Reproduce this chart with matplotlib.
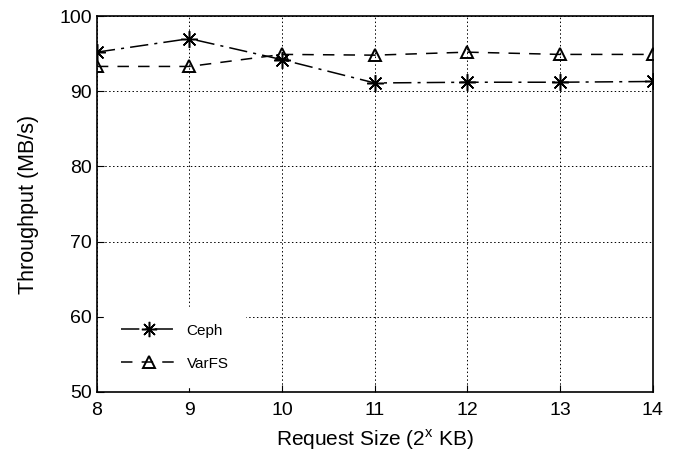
import numpy as np
import matplotlib
matplotlib.use('Agg')
import matplotlib.pyplot as plt
from matplotlib.lines import Line2D

plt.rcParams['font.family'] = ['Liberation Sans', 'DejaVu Sans']

# request size exponent (2^x KB)
sizes = [8, 9, 10, 11, 12, 13, 14]
ceph = [95.2, 97.0, 94.2, 91.1, 91.2, 91.2, 91.3]
varfs = [93.3, 93.3, 94.9, 94.8, 95.2, 94.9, 94.9]

star = (8, 2, 0)
ceph_dash = (12, 4, 2, 4)
varfs_dash = (7.5, 6)

fig, ax = plt.subplots(figsize=(6.82, 4.59), dpi=100)
fig.subplots_adjust(left=0.142, right=0.957, top=0.965, bottom=0.146)

ax.plot(sizes, ceph, color='black', lw=1.1, dashes=ceph_dash,
        marker=star, markersize=12, mew=1.1)
ax.plot(sizes, varfs, color='black', lw=1.1, dashes=varfs_dash,
        marker='^', markersize=9, mfc='none', mew=1.4)

ax.set_xlim(8, 14)
ax.set_ylim(50, 100)
ax.set_xticks(sizes)
ax.set_yticks(np.arange(50, 101, 10))
ax.grid(True, ls=(0, (1.5, 2.5)), color='black', lw=0.7)
ax.tick_params(direction='in', labelsize=14, length=5, top=False, right=False)
ax.tick_params(axis='x', pad=7)
for s in ax.spines.values():
    s.set_linewidth(1.2)

ax.set_xlabel(r'Request Size (2$^{\mathregular{x}}$ KB)', fontsize=15, labelpad=6)
ax.set_ylabel('Throughput (MB/s)', fontsize=15.5, labelpad=15)

h1 = Line2D([], [], color='black', lw=1.1, dashes=ceph_dash,
            marker=star, markersize=11, mew=1.1)
h2 = Line2D([], [], color='black', lw=1.1, dashes=varfs_dash,
            marker='^', markersize=8, mfc='none', mew=1.4)
leg = ax.legend([h1, h2], ['Ceph', 'VarFS'], loc='lower left',
                bbox_to_anchor=(0.013, 0.012), borderaxespad=0,
                frameon=True, fancybox=False,
                edgecolor='white', framealpha=1, fontsize=11,
                handlelength=3.7, handletextpad=0.6,
                borderpad=1.1, labelspacing=1.25)

fig.savefig('out.png', dpi=100)
